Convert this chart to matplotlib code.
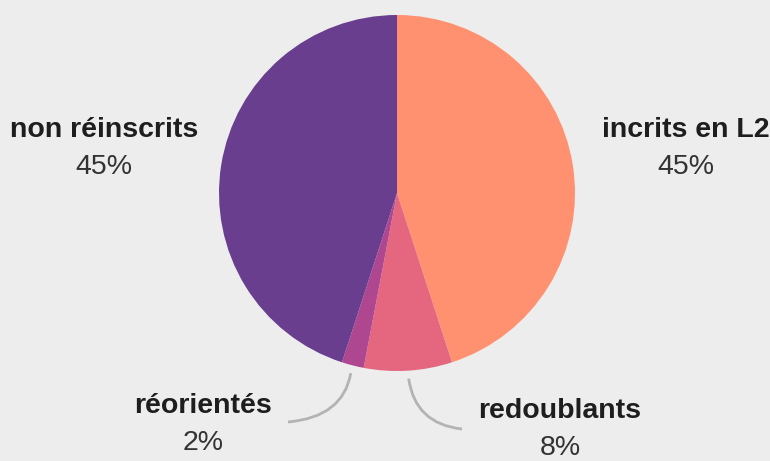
import numpy as np
import matplotlib.pyplot as plt
from matplotlib.path import Path
from matplotlib.patches import PathPatch

# Data
labels = ["incrits en L2", "redoublants", "réorientés", "non réinscrits"]
values = [45, 8, 2, 45]
colors = ["#ff9170", "#e4677f", "#ae4690", "#6a3e8f"]

W, H = 770, 461
fig = plt.figure(figsize=(W / 100, H / 100), dpi=100)
fig.patch.set_facecolor("#ededed")
ax = fig.add_axes([0, 0, 1, 1])
ax.set_facecolor("#ededed")

cx, cy, r = 397, H - 193, 178
wedges, _ = ax.pie(values, colors=colors, startangle=90, counterclock=False,
                   center=(cx, cy), radius=r, frame=True,
                   wedgeprops=dict(linewidth=0))
ax.set_xlim(0, W)
ax.set_ylim(0, H)
ax.set_aspect("equal")
ax.axis("off")

# label positions (x, y of the name) in pixels from top
label_pos = {
    "incrits en L2": (686, 130),
    "redoublants": (560, 411),
    "réorientés": (203, 406),
    "non réinscrits": (104, 130),
}
# end points of the leader lines for the small slices
leader_end = {"redoublants": (462, 429), "réorientés": (288, 422)}

font = ["Liberation Sans", "DejaVu Sans"]
for w, lab, v in zip(wedges, labels, values):
    x, y = label_pos[lab]
    ax.text(x, H - y, lab, ha="center", va="center", fontsize=20.5,
            fontweight="bold", color="#1e1e1e", family=font)
    ax.text(x, H - y - 37, "%d%%" % v, ha="center", va="center",
            fontsize=20.5, color="#333333", family=font)
    if lab in leader_end:
        ang = np.deg2rad((w.theta1 + w.theta2) / 2)
        sx = cx + (r + 8) * np.cos(ang)
        sy = cy + (r + 8) * np.sin(ang)
        ex, ey = leader_end[lab]
        ey = H - ey
        ctrl = (sx + (ex - sx) * 0.12, sy + (ey - sy) * 0.9)
        path = Path([(sx, sy), ctrl, (ex, ey)],
                    [Path.MOVETO, Path.CURVE3, Path.CURVE3])
        ax.add_patch(PathPatch(path, fill=False, edgecolor="#b3b3b3", lw=2))

fig.savefig("out.png", dpi=100, facecolor=fig.get_facecolor())
